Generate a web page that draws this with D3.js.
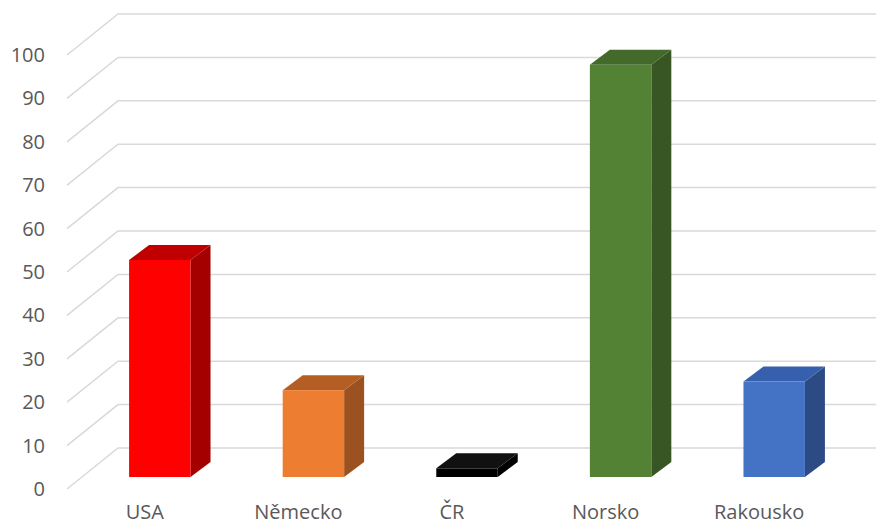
<!DOCTYPE html>
<html>
<head>
<meta charset="utf-8">
<script src="https://cdn.jsdelivr.net/npm/d3@7"></script>
<style>
  body { margin: 0; background: #fff; }
  svg text { font-family: "Open Sans", sans-serif; fill: #595959; }
</style>
</head>
<body>
<svg id="chart" width="876" height="526"></svg>
<script>
// data
var countries = ['USA', 'Německo', 'ČR', 'Norsko', 'Rakousko'];
var values = [50, 20, 2, 95, 22];
var frontColors = ['#ff0000', '#ed7d31', '#000000', '#548235', '#4472c4'];
var sideColors = ['#a50000', '#9c5220', '#000000', '#375623', '#2c4b84'];
var topColors = ['#c00000', '#b55e24', '#111111', '#436a2a', '#3660ad'];
var yTicks = [0, 10, 20, 30, 40, 50, 60, 70, 80, 90, 100];

var svg = d3.select('#chart');

// front plane of the floor / left wall
var y = d3.scaleLinear().domain([0, 100]).range([489, 55]);
var x = d3.scaleBand().domain(countries).range([68, 836])
    .paddingInner(0.6).paddingOuter(0.3);

// depth offsets (full depth of the wall, and bar front / back within it)
var depth = { dx: 51, dy: -41 };
var barFront = { dx: 15, dy: -12 };
var barBack = { dx: 35, dy: -27 };

// gridlines: diagonal on the left wall, then along the back wall
var grid = svg.append('g').attr('class', 'grid');
yTicks.forEach(function (t) {
    var fy = y(t);
    grid.append('polyline')
        .attr('points', [[67, fy], [67 + depth.dx, fy + depth.dy], [876, fy + depth.dy]].join(' '))
        .attr('fill', 'none')
        .attr('stroke', '#d9d9d9')
        .attr('stroke-width', 1.5);
});

// y labels
svg.append('g').selectAll('text')
    .data(yTicks)
    .enter()
    .append('text')
    .attr('x', 45)
    .attr('y', function (d) { return y(d); })
    .attr('dy', '0.35em')
    .attr('text-anchor', 'end')
    .style('font-size', '20px')
    .text(function (d) { return d; });

// bars
var bars = svg.append('g').selectAll('g.bar')
    .data(countries)
    .enter()
    .append('g')
    .attr('class', 'bar');

bars.each(function (c, i) {
    var g = d3.select(this);
    var x0 = x(c) + barFront.dx;
    var x1 = x0 + x.bandwidth();
    var yb = y(0) + barFront.dy;
    var yt = y(values[i]) + barFront.dy;
    var ox = barBack.dx - barFront.dx;
    var oy = barBack.dy - barFront.dy;

    g.append('polygon')
        .attr('points', [[x1, yt], [x1 + ox, yt + oy], [x1 + ox, yb + oy], [x1, yb]].join(' '))
        .attr('fill', sideColors[i]);
    g.append('polygon')
        .attr('points', [[x0, yt], [x1, yt], [x1 + ox, yt + oy], [x0 + ox, yt + oy]].join(' '))
        .attr('fill', topColors[i]);
    g.append('rect')
        .attr('x', x0)
        .attr('y', yt)
        .attr('width', x.bandwidth())
        .attr('height', yb - yt)
        .attr('fill', frontColors[i]);
});

// category labels
svg.append('g').selectAll('text')
    .data(countries)
    .enter()
    .append('text')
    .attr('x', function (d) { return x(d) + x.bandwidth() / 2; })
    .attr('y', 519)
    .attr('text-anchor', 'middle')
    .style('font-size', '20px')
    .text(function (d) { return d; });
</script>
</body>
</html>
